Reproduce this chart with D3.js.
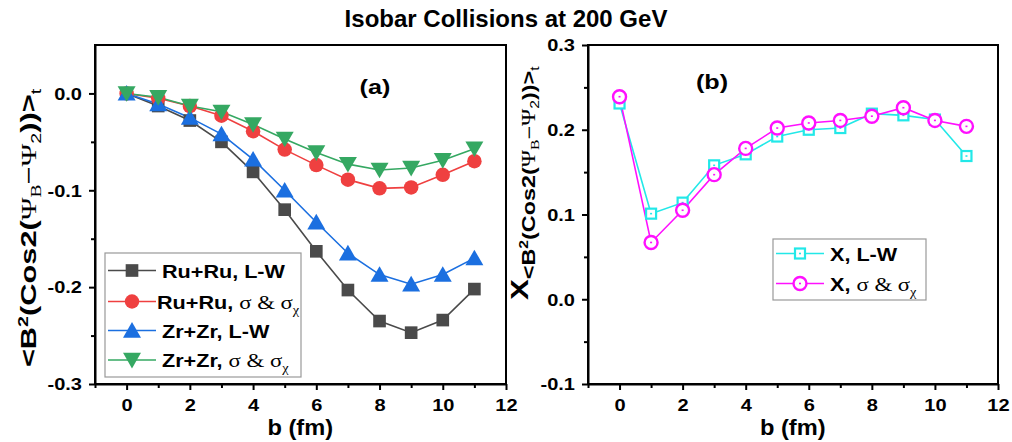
<!DOCTYPE html>
<html><head><meta charset="utf-8">
<script src="https://cdn.jsdelivr.net/npm/d3@7"></script>
<style>
body{margin:0;background:#fff;}
svg text{font-family:"Liberation Sans",Arial,sans-serif;font-weight:bold;fill:#000;}
.serif{font-family:"Liberation Serif","Times New Roman",serif;font-weight:normal;}
</style></head><body>
<svg id="chart" width="1012" height="442"></svg>
<script>
const bValues = [0,1,2,3,4,5,6,7,8,9,10,11];
const ruLW   = [0,-0.013,-0.028,-0.050,-0.081,-0.120,-0.163,-0.203,-0.235,-0.247,-0.234,-0.202];
const ruSig  = [0,-0.005,-0.013,-0.023,-0.039,-0.058,-0.074,-0.089,-0.098,-0.097,-0.084,-0.070];
const zrLW   = [0,-0.011,-0.025,-0.042,-0.068,-0.100,-0.133,-0.165,-0.187,-0.197,-0.187,-0.170];
const zrSig  = [0,-0.004,-0.013,-0.019,-0.032,-0.047,-0.061,-0.073,-0.079,-0.077,-0.069,-0.057];
const xLW    = [0.231,0.101,0.114,0.158,0.171,0.192,0.200,0.202,0.219,0.217,0.212,0.169];
const xSig   = [0.239,0.067,0.105,0.147,0.178,0.202,0.208,0.211,0.216,0.226,0.211,0.204];
const xTicks = [0,2,4,6,8,10,12];
const xMinor = [-1,1,3,5,7,9,11];
const leftYTicks = [0,-0.1,-0.2,-0.3];
const leftYMinor = [-0.05,-0.15,-0.25];
const rightYTicks = [0.3,0.2,0.1,0.0,-0.1];
const rightYMinor = [0.25,0.15,0.05,-0.05];

const svg = d3.select("#chart");
const TICK_FS = 16, TICK_SX = 1.25, LEG_SX = 1.2;

svg.append("text").attr("x",506).attr("y",27).attr("text-anchor","middle")
  .style("font-size","24px").text("Isobar Collisions at 200 GeV");

function panel(opt){
  const g = svg.append("g");
  const x = d3.scaleLinear().domain([-1,12]).range([opt.x0,opt.x1]);
  const y = d3.scaleLinear().domain(opt.yDom).range([384,45]);
  g.append("rect").attr("x",opt.x0).attr("y",45).attr("width",opt.x1-opt.x0).attr("height",339)
    .attr("fill","none").attr("stroke","#000").attr("stroke-width",2);
  const xa = g.append("g").attr("transform","translate(0,384)")
    .call(d3.axisBottom(x).tickValues(xTicks).tickFormat(d3.format("d")).tickSize(6).tickSizeOuter(0));
  xa.select(".domain").attr("stroke-width",2);
  xa.selectAll(".tick line").attr("stroke-width",2);
  xa.selectAll("text").attr("dy",0).attr("y",0)
    .attr("transform",`translate(0,27) scale(${TICK_SX},1)`)
    .style("font-size",TICK_FS+"px").style("font-family","Liberation Sans").style("font-weight","bold");
  const xm = g.append("g").attr("transform","translate(0,384)")
    .call(d3.axisBottom(x).tickValues(xMinor).tickFormat("").tickSize(4).tickSizeOuter(0));
  xm.select(".domain").remove(); xm.selectAll(".tick line").attr("stroke-width",2);
  const ya = g.append("g").attr("transform",`translate(${opt.x0},0)`)
    .call(d3.axisLeft(y).tickValues(opt.yTicks).tickFormat(d3.format(".1f")).tickSize(6).tickSizeOuter(0));
  ya.select(".domain").attr("stroke-width",2);
  ya.selectAll(".tick line").attr("stroke-width",2);
  ya.selectAll("text").attr("x",0).attr("dy","0.36em")
    .attr("transform",`translate(-13,0) scale(${TICK_SX},1)`)
    .style("font-size",TICK_FS+"px").style("font-family","Liberation Sans").style("font-weight","bold")
    .text(d=>d3.format(".1f")(d).replace("−","-"));
  const ym = g.append("g").attr("transform",`translate(${opt.x0},0)`)
    .call(d3.axisLeft(y).tickValues(opt.yMinor).tickFormat("").tickSize(4).tickSizeOuter(0));
  ym.select(".domain").remove(); ym.selectAll(".tick line").attr("stroke-width",2);
  g.append("text").attr("text-anchor","middle")
    .attr("transform",`translate(${(x(0)+x(12))/2 - 16},435) scale(1.1,1)`)
    .style("font-size","21.5px").text("b (fm)");
  return {g,x,y};
}

function legendText(gr, x, y, s){
  const t = gr.append("text").attr("transform",`translate(${x},${y}) scale(${LEG_SX},1)`).style("font-size","18px");
  t.append("tspan").text(s.name);
  if(s.sig){
    t.append("tspan").attr("class","serif").style("font-size","19px").text("σ & σ");
    t.append("tspan").attr("class","serif").attr("dy",5).style("font-size","12px").text("χ");
  }
}

// Left panel
const L = panel({x0:95,x1:506,yDom:[-0.3,0.05],yTicks:leftYTicks,yMinor:leftYMinor});
L.g.append("text").attr("transform","translate(375,94) scale(1.2,1)").attr("text-anchor","middle").style("font-size","21px").text("(a)");

const leftSeries = [
  {name:"Ru+Ru, L-W", vals:ruLW, color:"#4a4a4a", sym:d3.symbolSquare, size:160, rot:0, sig:false},
  {name:"Ru+Ru, ", vals:ruSig, color:"#ef4040", sym:d3.symbolCircle, size:165, rot:0, sig:true},
  {name:"Zr+Zr, L-W", vals:zrLW, color:"#1b6fe0", sym:d3.symbolTriangle, size:140, rot:0, sig:false},
  {name:"Zr+Zr, ", vals:zrSig, color:"#35a862", sym:d3.symbolTriangle, size:140, rot:180, sig:true}
];
const lineL = d3.line().x((d,i)=>L.x(bValues[i])).y(d=>L.y(d));
leftSeries.forEach(s=>{
  L.g.append("path").attr("d",lineL(s.vals)).attr("fill","none").attr("stroke",s.color).attr("stroke-width",1.6);
});
leftSeries.forEach(s=>{
  const shiftY = s.sym===d3.symbolTriangle ? (s.rot? -2:2) : 0;
  L.g.selectAll(null).data(s.vals).enter().append("path")
    .attr("d",d3.symbol().type(s.sym).size(s.size))
    .attr("transform",(d,i)=>`translate(${L.x(bValues[i])},${L.y(d)+shiftY}) rotate(${s.rot})`)
    .attr("fill",s.color);
});
const lg = L.g.append("g");
lg.append("rect").attr("x",105).attr("y",253).attr("width",196).attr("height",124)
  .attr("fill","#fff").attr("stroke","#999").attr("stroke-width",1.2);
const legY = [270.5,301.5,330.5,360];
leftSeries.forEach((s,i)=>{
  const yy = legY[i];
  lg.append("line").attr("x1",108).attr("x2",156).attr("y1",yy).attr("y2",yy).attr("stroke",s.color).attr("stroke-width",1.6);
  const shiftY = s.sym===d3.symbolTriangle ? (s.rot? -2:2) : 0;
  lg.append("path").attr("d",d3.symbol().type(s.sym).size(s.size))
    .attr("transform",`translate(132,${yy+shiftY}) rotate(${s.rot})`).attr("fill",s.color);
  legendText(lg, i===1?157:162, yy+7, s);
});
// left y title
const yt = svg.append("text").attr("transform","translate(36,228) rotate(-90) scale(1.4,1)").attr("text-anchor","middle").style("font-size","22px");
yt.append("tspan").text("<B");
yt.append("tspan").attr("dy",-8).style("font-size","14px").text("2");
yt.append("tspan").attr("dy",8).text("(Cos2(");
yt.append("tspan").attr("class","serif").text("Ψ");
yt.append("tspan").attr("class","serif").attr("dy",5).style("font-size","14px").text("B");
yt.append("tspan").attr("dy",-5).style("font-weight","normal").text("−");
yt.append("tspan").attr("class","serif").text("Ψ");
yt.append("tspan").attr("dy",5).style("font-size","14px").style("font-weight","normal").text("2");
yt.append("tspan").attr("dy",-5).text("))>");
yt.append("tspan").attr("dy",5).style("font-size","14px").style("font-weight","normal").text("t");

// Right panel
const R = panel({x0:588,x1:998,yDom:[-0.1,0.3],yTicks:rightYTicks,yMinor:rightYMinor});
R.g.append("text").attr("transform","translate(712,89) scale(1.2,1)").attr("text-anchor","middle").style("font-size","21px").text("(b)");
const lineR = d3.line().x((d,i)=>R.x(bValues[i])).y(d=>R.y(d));
const rightSeries = [
  {name:"X, L-W", vals:xLW, color:"#22e8e8", type:"square", sig:false},
  {name:"X, ", vals:xSig, color:"#ff10ff", type:"circle", sig:true}
];
rightSeries.forEach(s=>{
  R.g.append("path").attr("d",lineR(s.vals)).attr("fill","none").attr("stroke",s.color).attr("stroke-width",1.6);
});
function openMarker(gr,s,cx,cy){
  if(s.type==="square"){
    gr.append("rect").attr("x",cx-5).attr("y",cy-5).attr("width",10).attr("height",10)
      .attr("fill","#fff").attr("stroke",s.color).attr("stroke-width",2.2);
  } else {
    gr.append("circle").attr("cx",cx).attr("cy",cy).attr("r",6.5)
      .attr("fill","#fff").attr("stroke",s.color).attr("stroke-width",2.4);
  }
  gr.append("rect").attr("x",cx-1).attr("y",cy-0.8).attr("width",2).attr("height",1.6).attr("fill",s.color);
}
rightSeries.forEach(s=>{
  s.vals.forEach((v,i)=>openMarker(R.g,s,R.x(bValues[i]),R.y(v)));
});
const rg = R.g.append("g");
rg.append("rect").attr("x",773).attr("y",239).attr("width",153).attr("height",61)
  .attr("fill","#fff").attr("stroke","#999").attr("stroke-width",1.2);
const legRY = [253.5,283.5];
rightSeries.forEach((s,i)=>{
  const yy = legRY[i];
  rg.append("line").attr("x1",776).attr("x2",824).attr("y1",yy).attr("y2",yy).attr("stroke",s.color).attr("stroke-width",1.6);
  openMarker(rg,s,800,yy);
  legendText(rg, 830, yy+7, s);
});
// right y title
const rt = svg.append("text").attr("transform","translate(528,300) rotate(-90) scale(1.3,1)").attr("text-anchor","start").style("font-size","24px");
rt.append("tspan").text("X");
rt.append("tspan").attr("dy",7).style("font-size","18px").text("<B");
rt.append("tspan").attr("dy",-7).style("font-size","12px").text("2");
rt.append("tspan").attr("dy",7).style("font-size","18px").text("(Cos2(");
rt.append("tspan").attr("class","serif").style("font-size","18px").text("Ψ");
rt.append("tspan").attr("class","serif").attr("dy",4).style("font-size","12px").text("B");
rt.append("tspan").attr("dy",-4).style("font-size","18px").style("font-weight","normal").text("−");
rt.append("tspan").attr("class","serif").style("font-size","18px").text("Ψ");
rt.append("tspan").attr("dy",4).style("font-size","12px").style("font-weight","normal").text("2");
rt.append("tspan").attr("dy",-4).style("font-size","18px").text("))>");
rt.append("tspan").attr("dy",4).style("font-size","12px").style("font-weight","normal").text("t");
</script>
</body></html>
